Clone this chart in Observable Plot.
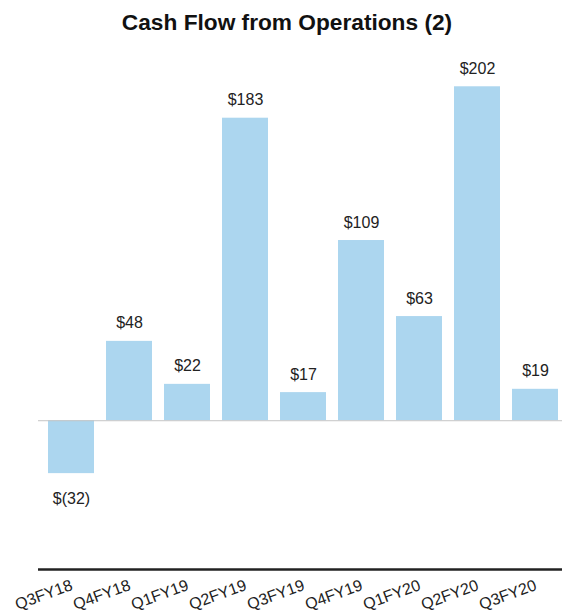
<!DOCTYPE html>
<html>
<head>
<meta charset="utf-8">
<script src="https://cdn.jsdelivr.net/npm/d3@7"></script>
<script src="https://cdn.jsdelivr.net/npm/@observablehq/plot@0.6"></script>
<style>
  html, body { margin: 0; padding: 0; background: #fff; }
  #title {
    width: 562px; height: 40px; line-height: 44px; overflow: visible;
    text-align: center; box-sizing: border-box; padding-left: 12px;
    font-family: "Liberation Sans", Arial, sans-serif; font-weight: bold;
    font-size: 22.7px; color: #111;
  }
  #chart svg { display: block; }
</style>
</head>
<body>
<div id="title">Cash Flow from Operations (2)</div>
<div id="chart"></div>
<script>
const quarters = ["Q3FY18", "Q4FY18", "Q1FY19", "Q2FY19", "Q3FY19", "Q4FY19", "Q1FY20", "Q2FY20", "Q3FY20"];
const cashFlow = [-32, 48, 22, 183, 17, 109, 63, 202, 19];
const yDomain = [-90, 230];

const data = quarters.map((q, i) => ({quarter: q, value: cashFlow[i]}));
const fmt = v => v < 0 ? `$(${Math.abs(v)})` : `$${v}`;
const font = "Liberation Sans, Arial, sans-serif";

const chart = Plot.plot({
  width: 562,
  height: 575,
  marginLeft: 38,
  marginRight: 0,
  marginTop: 0,
  marginBottom: 46,
  style: {fontFamily: font, background: "#fff"},
  x: {type: "band", domain: quarters, range: [46, 561], paddingInner: 0.2, paddingOuter: 0, axis: null},
  y: {domain: yDomain, axis: null},
  marks: [
    Plot.barY(data, {x: "quarter", y: "value", fill: "#acd6ef"}),
    Plot.ruleY([0], {stroke: "#c4c4c4", strokeWidth: 1}),
    Plot.ruleY([yDomain[0]], {stroke: "#222", strokeWidth: 2.5}),
    Plot.text(data.filter(d => d.value >= 0), {
      x: "quarter", y: "value", text: d => fmt(d.value),
      lineAnchor: "bottom", dy: -13, fontSize: 16, fill: "#222"
    }),
    Plot.text(data.filter(d => d.value < 0), {
      x: "quarter", y: "value", text: d => fmt(d.value),
      lineAnchor: "bottom", dy: 30, fontSize: 16, fill: "#222"
    }),
    Plot.text(quarters, {
      x: d => d, frameAnchor: "bottom", text: d => d,
      rotate: -20, textAnchor: "end", lineAnchor: "bottom",
      dx: 2, dy: 20, fontSize: 16, fill: "#222"
    })
  ]
});
document.getElementById("chart").appendChild(chart);
</script>
</body>
</html>
